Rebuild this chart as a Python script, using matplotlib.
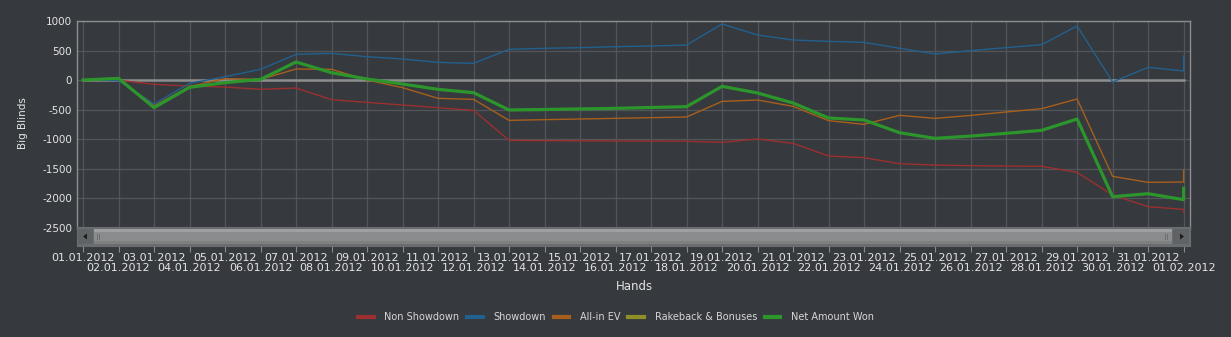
import matplotlib.pyplot as plt
from matplotlib.lines import Line2D
from matplotlib.patches import Rectangle, Polygon

# ------------------------------------------------------------
# data
# ------------------------------------------------------------
dates = ["01.01.2012", "02.01.2012", "03.01.2012", "04.01.2012", "05.01.2012",
         "06.01.2012", "07.01.2012", "08.01.2012", "09.01.2012", "10.01.2012",
         "11.01.2012", "12.01.2012", "13.01.2012", "14.01.2012", "15.01.2012",
         "16.01.2012", "17.01.2012", "18.01.2012", "19.01.2012", "20.01.2012",
         "21.01.2012", "22.01.2012", "23.01.2012", "24.01.2012", "25.01.2012",
         "26.01.2012", "27.01.2012", "28.01.2012", "29.01.2012", "30.01.2012",
         "31.01.2012", "01.02.2012"]

# last value of each series is a second sample on 01.02.2012
non_showdown = [0, -5, -73, -102, -119, -158, -136, -333, -379, -424, -469, -514,
                -1023, -1028, -1030, -1032, -1034, -1038, -1056, -1000, -1073,
                -1288, -1316, -1418, -1441, -1452, -1458, -1463, -1565, -1949,
                -2147, -2192, -2240]
showdown = [0, -10, -407, -56, 56, 181, 435, 452, 395, 356, 299, 282, 520, 537,
            548, 565, 576, 593, 949, 763, 678, 655, 638, 537, 441, 497, 548, 599,
            915, -34, 215, 153, 407]
allin_ev = [0, 20, -440, -110, 23, 11, 186, 181, 0, -130, -311, -328, -684, -672,
            -661, -650, -638, -627, -362, -339, -446, -689, -751, -599, -650, -600,
            -542, -486, -322, -1633, -1734, -1729, -1525]
rakeback = [0, 0, 0, 0, 0, 0, 0, 0, 0, 0, 0, 0, 0, 0, 0, 0, 0, 0, 0, 0, 0, 0, 0,
            0, 0, 0, 0, 0, 0, 0, 0, 0, 0]
net_won = [0, 28, -469, -124, -45, 11, 305, 124, 17, -68, -158, -215, -508, -500,
           -490, -480, -466, -452, -107, -220, -390, -644, -678, -893, -989, -950,
           -904, -853, -661, -1977, -1927, -2028, -1836]

yticks = [1000, 500, 0, -500, -1000, -1500, -2000, -2500]

# ------------------------------------------------------------
# style
# ------------------------------------------------------------
bg = "#36393d"
grid_c = "#52565a"
frame_c = "#8c8e90"
txt_c = "#e4e4e4"
c_red = "#9c2f2f"
c_blue = "#22618f"
c_orange = "#a85f1c"
c_olive = "#8f8f2a"
c_green = "#2c962c"
c_zero = "#8e8e8e"

W, H = 1231, 337
fig = plt.figure(figsize=(W / 100, H / 100), dpi=100, facecolor=bg)

x0, x1 = 77, 1190          # plot area in px
top, bot = 21, 229
ax = fig.add_axes([x0 / W, 1 - bot / H, (x1 - x0) / W, (bot - top) / H])
ax.set_facecolor(bg)

xs = list(range(len(dates))) + [len(dates) - 1]

ax.plot(xs, non_showdown, color=c_red, lw=1.0, zorder=3)
ax.plot(xs, showdown, color=c_blue, lw=1.0, zorder=3)
ax.plot(xs, allin_ev, color=c_orange, lw=1.0, zorder=3)
ax.plot(xs, rakeback, color=c_zero, lw=1.8, zorder=2)
ax.plot(xs, net_won, color=c_green, lw=2.3, zorder=4)

xlim = (-0.17, 31.18)
ax.set_xlim(*xlim)
ax.set_ylim(-2525, 1000)
ax.set_yticks(yticks)
ax.set_yticklabels([str(v) for v in yticks])
ax.set_xticks(range(len(dates)))
ax.tick_params(axis="x", length=0, labelbottom=False)
ax.tick_params(axis="y", length=0, pad=3.5, labelsize=7.5, colors=txt_c)
ax.grid(True, color=grid_c, lw=0.9)
ax.set_axisbelow(True)
for s in ["top", "left", "right"]:
    ax.spines[s].set_color(frame_c)
    ax.spines[s].set_linewidth(1.0)
ax.spines["bottom"].set_visible(False)

ax.set_ylabel("Big Blinds", color=txt_c, fontsize=7.5)
ax.yaxis.set_label_coords(-0.044, 0.51)

# ------------------------------------------------------------
# scrollbar strip + date labels
# ------------------------------------------------------------
sb_top, sb_bot = 227, 246
sb = fig.add_axes([x0 / W, 1 - sb_bot / H, (x1 - x0) / W, (sb_bot - sb_top) / H])
sb.set_facecolor("#6a6d70")
sb.set_xlim(*xlim)
sb.set_ylim(0, 1)
sb.set_yticks([])
for s in sb.spines.values():
    s.set_color("#6a6d70")


def px(xp, yp):
    return ((xp - x0) / (x1 - x0), (sb_bot - yp) / (sb_bot - sb_top))


def box(xa, ya, xb, yb, color):
    p0 = px(xa, yb)
    p1 = px(xb, ya)
    sb.add_patch(Rectangle(p0, p1[0] - p0[0], p1[1] - p0[1], transform=sb.transAxes,
                           color=color, lw=0, clip_on=False))


box(78, 229, 93, 244, "#606366")
box(1173, 229, 1189, 244, "#606366")
box(94, 229, 1172, 244, "#8a8c8e")
box(94, 229, 1172, 232, "#9d9fa1")
box(94, 241, 1172, 244, "#7d7f81")
for gx in [97, 99, 1165, 1167]:
    box(gx, 234, gx + 1, 240, "#6c6e70")
sb.add_patch(Polygon([px(83, 236.5), px(87, 233.5), px(87, 239.5)],
                     transform=sb.transAxes, color="#1c1c1c", lw=0))
sb.add_patch(Polygon([px(1184, 236.5), px(1180, 233.5), px(1180, 239.5)],
                     transform=sb.transAxes, color="#1c1c1c", lw=0))

# odd dates on the upper row (major), even dates on the lower row (minor)
idx = list(range(len(dates)))
sb.set_xticks(idx[0::2], dates[0::2])
sb.set_xticks(idx[1::2], dates[1::2], minor=True)
sb.tick_params(axis="x", which="both", length=4, width=0.8, color="#8a8a8a",
               labelsize=8, labelcolor=txt_c)
sb.tick_params(axis="x", which="major", pad=1.0)
sb.tick_params(axis="x", which="minor", pad=8.2)

fig.text(634 / W, 1 - 287 / H, "Hands", color=txt_c, fontsize=8.5,
         ha="center", va="center")

# ------------------------------------------------------------
# legend
# ------------------------------------------------------------
handles = [Line2D([], [], color=c, lw=3) for c in
           [c_red, c_blue, c_orange, c_olive, c_green]]
labels = ["Non Showdown", "Showdown", "All-in EV", "Rakeback & Bonuses",
          "Net Amount Won"]
leg = fig.legend(handles, labels, loc="center", ncol=5,
                 bbox_to_anchor=(616 / W, 1 - 317 / H), frameon=False,
                 fontsize=7, handlelength=1.6, handletextpad=1.1,
                 columnspacing=0.8, labelcolor="#d6d6d6")

fig.savefig("out.png", dpi=100, facecolor=bg)
